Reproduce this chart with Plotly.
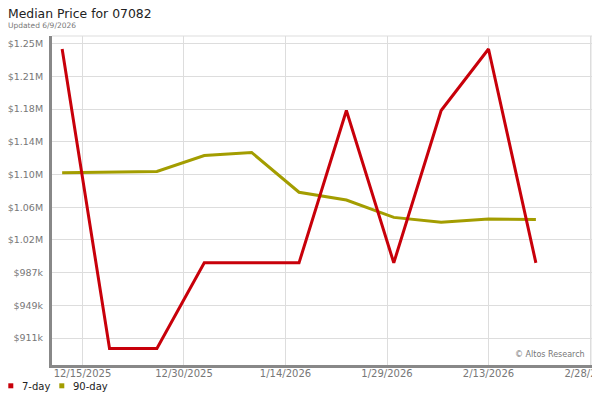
import plotly.graph_objects as go

# weekly sample dates
dates = ['2025-12-12', '2025-12-19', '2025-12-26', '2026-01-02', '2026-01-09', '2026-01-16',
         '2026-01-23', '2026-01-30', '2026-02-06', '2026-02-13', '2026-02-20']

# median price, 7-day and 90-day rolling
seven_day = [1245000, 899000, 899000, 998000, 998000, 998000,
             1174000, 998000, 1174000, 1245000, 998000]
ninety_day = [1102000, 1103000, 1103500, 1122000, 1125500, 1079500,
              1070500, 1050500, 1045000, 1048500, 1048000]

x_ticks = ['2025-12-15', '2025-12-30', '2026-01-14', '2026-01-29', '2026-02-13', '2026-02-28']
x_labels = ['12/15/2025', '12/30/2025', '1/14/2026', '1/29/2026', '2/13/2026', '2/28/2026']

y_ticks = [911000, 948800, 986600, 1024400, 1062200, 1100000, 1137800, 1175600, 1213400, 1251200]
y_labels = ['$911k', '$949k', '$987k', '$1.02M', '$1.06M', '$1.10M', '$1.14M', '$1.18M', '$1.21M', '$1.25M']

RED = '#c8000a'
OLIVE = '#a39d00'
FONT = 'DejaVu Sans'

fig = go.Figure()
fig.add_trace(go.Scatter(x=dates, y=ninety_day, mode='lines', name='90-day',
                         line=dict(color=OLIVE, width=3)))
fig.add_trace(go.Scatter(x=dates, y=seven_day, mode='lines', name='7-day',
                         line=dict(color=RED, width=3)))

# page body adds an 8px offset; plot area on screen is x 52..592, y 36..365
def px(x):
    return (x - 52) / 540.0

def py(y):
    return (365 - y) / 329.0

shapes = [
    dict(type='line', xref='paper', yref='paper', x0=0, x1=1, y0=1, y1=1,
         line=dict(color='#dddddd', width=1)),
    dict(type='line', xref='paper', yref='paper', x0=1, x1=1, y0=0, y1=1,
         line=dict(color='#dddddd', width=1)),
    # legend swatches
    dict(type='rect', xref='paper', yref='paper', x0=px(8.3), x1=px(13.3), y0=py(388.3), y1=py(383.3),
         fillcolor=RED, line=dict(width=0)),
    dict(type='rect', xref='paper', yref='paper', x0=px(59.3), x1=px(64.3), y0=py(388.3), y1=py(383.3),
         fillcolor=OLIVE, line=dict(width=0)),
]

annotations = [
    dict(text='Median Price for 07082', x=px(7), y=py(14), xanchor='left', yanchor='middle',
         borderpad=0, font=dict(family=FONT, size=12.4, color='#222222')),
    dict(text='Updated 6/9/2026', x=px(7), y=py(25.5), xanchor='left', yanchor='middle',
         borderpad=0, font=dict(family=FONT, size=7.5, color='#777777')),
    dict(text='© Altos Research', x=px(587), y=py(354), xanchor='right', yanchor='middle',
         font=dict(family=FONT, size=8, color='#777777')),
    dict(text='7-day', x=px(20), y=py(386), xanchor='left', yanchor='middle',
         font=dict(family=FONT, size=10, color='#222222')),
    dict(text='90-day', x=px(71), y=py(386), xanchor='left', yanchor='middle',
         font=dict(family=FONT, size=10, color='#222222')),
]
for a in annotations:
    a.update(xref='paper', yref='paper', showarrow=False)

fig.update_layout(
    width=592, height=392,
    margin=dict(l=44, r=8, t=28, b=35),
    paper_bgcolor='white', plot_bgcolor='white',
    font=dict(family=FONT, size=10, color='#777777'),
    showlegend=False,
    xaxis=dict(type='date', range=['2025-12-10 12:00', '2026-02-28 07:00'],
               tickvals=x_ticks, ticktext=x_labels, showgrid=True, gridcolor='#dddddd',
               showline=True, linecolor='#888888', linewidth=3, ticks='', zeroline=False,
               automargin=False, ticklabeloverflow='allow', ticklabelstandoff=-3,
               tickfont=dict(size=10, color='#777777')),
    yaxis=dict(range=[880000, 1260000], tickvals=y_ticks, ticktext=y_labels,
               showgrid=True, gridcolor='#dddddd', showline=True, linecolor='#888888',
               linewidth=3, ticks='', zeroline=False, automargin=False, ticklabelstandoff=4,
               tickfont=dict(size=9.5, color='#777777')),
    shapes=shapes,
    annotations=annotations,
)

fig.write_html('out.html')
